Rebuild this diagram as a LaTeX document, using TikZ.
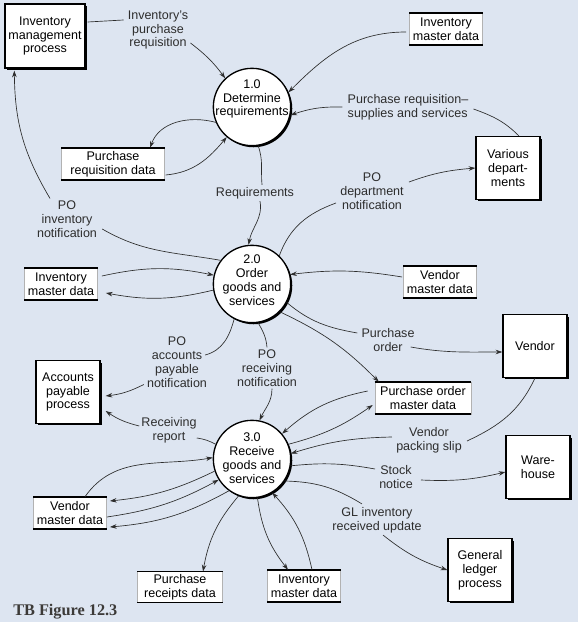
\documentclass[tikz,border=0pt]{standalone}
\usepackage{fontspec}
\setmainfont{Liberation Sans}
\newfontfamily\titlefont{Liberation Serif}
\usetikzlibrary{arrows.meta,shadows,calc}

\definecolor{bgblue}{RGB}{221,229,241}
\definecolor{ink}{RGB}{45,45,45}
\definecolor{titlegray}{RGB}{60,58,56}

\tikzset{
  entity/.style={draw=black, fill=white, line width=1pt, align=center,
    minimum width=48pt, minimum height=47pt, inner sep=2pt,
    drop shadow={shadow xshift=1.4pt, shadow yshift=-1.4pt, fill=black, opacity=1}},
  store/.style={draw=gray!60, line width=0.4pt, fill=white, align=center,
    minimum width=55pt, minimum height=24pt, inner sep=1pt},
  proc/.style={circle, draw=black, fill=white, line width=1pt,
    minimum size=58pt, inner sep=0pt,
    drop shadow={shadow xshift=1.2pt, shadow yshift=-1.2pt, fill=black, opacity=1}},
  lbl/.style={align=center, inner sep=1.5pt, text=ink},
  flow/.style={draw=ink, line width=0.5pt}
}

\begin{document}
\begin{tikzpicture}[x=0.75pt, y=0.75pt, font=\fontsize{9.4}{10.4}\selectfont,
    >={Stealth[length=5pt,width=3.4pt]}]
            \fill[bgblue] (0,0) rectangle (578,622);
            \useasboundingbox (0,0) rectangle (578,622);

            % external entities
            \node[entity, minimum width=60pt, minimum height=48pt] (invmgmt) at (45,586) {Inventory\\management\\process};
            \node[entity] (various) at (508,454) {Various\\depart-\\ments};
            \node[entity] (vendor) at (535,276) {Vendor};
            \node[entity] (acctpay) at (68,230) {Accounts\\payable\\process};
            \node[entity] (warehouse) at (538,155) {Ware-\\house};
            \node[entity] (gl) at (480,52) {General\\ledger\\process};

            % data stores
            \node[store] (invmdA) at (446,593) {Inventory\\master data};
            \node[store, minimum width=77pt] (prd) at (113,458) {Purchase\\requisition data};
            \node[store] (invmdB) at (61,338) {Inventory\\master data};
            \node[store] (vmdA) at (440,340) {Vendor\\master data};
            \node[store, minimum width=72pt] (pomd) at (423,224) {Purchase order\\master data};
            \node[store] (vmdB) at (70,109) {Vendor\\master data};
            \node[store, minimum width=64pt, minimum height=23pt] (prcd) at (180,35) {Purchase\\receipts data};
            \node[store] (invmdC) at (304,36) {Inventory\\master data};

            \foreach \s in {invmdA,prd,invmdB,vmdA,pomd,vmdB,prcd,invmdC}
              \draw[line width=1.2pt] (\s.north west) -- (\s.north east)
                                      (\s.south west) -- (\s.south east);

            % processes
            \node[proc] (c1) at (252,515) {};
            \node[align=center] (c1t) at ($(c1)+(0,8)$) {1.0\\Determine\\requirements};
            \node[proc] (c2) at (252,338) {};
            \node[align=center] (c2t) at ($(c2)+(0,4)$) {2.0\\Order\\goods and\\services};
            \node[proc] (c3) at (252,163) {};
            \node[align=center] (c3t) at ($(c3)+(0,1)$) {3.0\\Receive\\goods and\\services};

            % flow labels
            \node[lbl] (lreq) at (158,592) {Inventory’s\\purchase\\requisition};
            \node[lbl, align=left] (lprs) at (408,515) {Purchase requisition–\\supplies and services};
            \node[lbl] (lrqm) at (255,429) {Requirements};
            \node[lbl] (lpod) at (372,431) {PO\\department\\notification};
            \node[lbl] (lpoi) at (67,403) {PO\\inventory\\notification};
            \node[lbl] (lpoa) at (177,260) {PO\\accounts\\payable\\notification};
            \node[lbl] (lpor) at (267,254) {PO\\receiving\\notification};
            \node[lbl] (lpo) at (388,282) {Purchase\\order};
            \node[lbl] (lrr) at (169,192) {Receiving\\report};
            \node[lbl] (lvps) at (429,182) {Vendor\\packing slip};
            \node[lbl] (lsn) at (396,145) {Stock\\notice};
            \node[lbl] (lgl) at (377,102) {GL inventory\\received update};

            \node[anchor=base west, inner sep=0pt, text=titlegray,
                  font=\titlefont\bfseries\fontsize{12.2}{14}\selectfont] (title) at (13,7) {TB Figure 12.3};

            % flows of 1.0
            \draw[flow] ($(invmgmt.east)+(2,14)$) -- ($(lreq.west)+(-2,10)$);
            \draw[flow,->] ($(lreq.east)+(0,-13)$) to[bend left=8] (c1.133);
            \draw[flow,->] ($(invmdA.west)+(-3,-3)$) to[out=180,in=45] (c1.22);
            \draw[flow] ($(various.north)+(11,0)$) to[out=135,in=-20] ($(lprs.east)+(3,-2)$);
            \draw[flow,->] ($(lprs.west)+(-3,0)$) to[bend right=10] (c1.-12);
            \draw[flow,->] (c1.203) to[out=165,in=70] ($(prd.north)+(37,0)$);
            \draw[flow,->] ($(prd.east)+(1,-11)$) to[out=5,in=230] (c1.230);
            \draw[flow] (c1.279) to[out=-70,in=95] ($(lrqm.north)+(7,0)$);
            \draw[flow,->] ($(lrqm.south)+(5,0)$) to[out=-80,in=80] (c2.95);

            % flows of 2.0
            \draw[flow] (c2.46) to[out=70,in=200] ($(lpod.west)+(-2,-12)$);
            \draw[flow,->] ($(lpod.east)+(3,9)$) to[out=20,in=185] (various.west);
            \draw[flow] (c2.143) to[out=170,in=-30] ($(lpoi.east)+(3,-10)$);
            \draw[flow,->] ($(lpoi.north)+(-17,0)$) to[bend left=15] ($(invmgmt.south west)+(10,-2)$);
            \draw[flow,->] ($(invmdB.east)+(4,8)$) to[bend left=12] (c2.167);
            \draw[flow,->] (c2.189) to[bend left=12] ($(invmdB.east)+(8,-9)$);
            \draw[flow,->] ($(vmdA.west)+(-1,5)$) to[bend right=8] (c2.14);
            \draw[flow] (c2.-28) to[out=-40,in=170] ($(lpo.west)+(-2,7)$);
            \draw[flow,->] ($(lpo.east)+(-6,-7)$) to[out=-10,in=180] ($(vendor.west)+(0,-6)$);
            \draw[flow,->] (c2.-45) to[bend left=10] ($(pomd.north west)+(4,0)$);
            \draw[flow] (c2.243) to[out=-105,in=15] ($(lpoa.east)+(-4,7)$);
            \draw[flow,->] ($(lpoa.south west)+(-1,5)$) to[bend left=10] ($(acctpay.east)+(5,-4)$);
            \draw[flow] (c2.279) to[out=-60,in=95] (lpor.north);
            \draw[flow,->] ($(lpor.south)+(5,0)$) to[out=-90,in=65] (c3.79);

            % flows of 3.0
            \draw[flow,->] ($(pomd.west)+(-7,7)$) to[bend right=15] (c3.40);
            \draw[flow,->] (c3.22) to[bend right=10] ($(pomd.west)+(-2,-7)$);
            \draw[flow] (vendor.south) to[out=-115,in=25] ($(lvps.east)+(3,-1)$);
            \draw[flow,->] ($(lvps.west)+(-2,3)$) to[bend right=8] (c3.8);
            \draw[flow] (c3.-10) to[bend left=8] ($(lsn.west)+(-2,8)$);
            \draw[flow,->] ($(lsn.east)+(6,-3)$) to[bend right=8] ($(warehouse.west)+(0,-5)$);
            \draw[flow] (c3.-34) to[bend left=15] ($(lgl.north)+(-15,1)$);
            \draw[flow,->] ($(lgl.south)+(6,0)$) to[bend right=10] (gl.west);
            \draw[flow] (c3.158) to[bend right=10] ($(lrr.east)+(-2,-8)$);
            \draw[flow,->] ($(lrr.west)+(0,4)$) to[bend left=10] ($(acctpay.east)+(5,-19)$);
            \draw[flow,->] ($(vmdB.north)+(15,0)$) to[out=55,in=190] (c3.178);
            \draw[flow,->] (c3.198) to[bend left=10] ($(vmdB.east)+(3,12)$);
            \draw[flow,->] ($(vmdB.east)+(0,-4)$) to[bend right=10] (c3.212);
            \draw[flow,->] (c3.234) to[bend left=12] ($(vmdB.east)+(3,-14)$);
            \draw[flow,->] (c3.250) to[bend right=15] ($(prcd.north)+(23,0)$);
            \draw[flow,->] (c3.278) to[bend right=15] ($(invmdC.north)+(-16,0)$);
            \draw[flow,->] ($(invmdC.north)+(8,0)$) to[bend right=15] (c3.301);
        \end{tikzpicture}
\end{document}
